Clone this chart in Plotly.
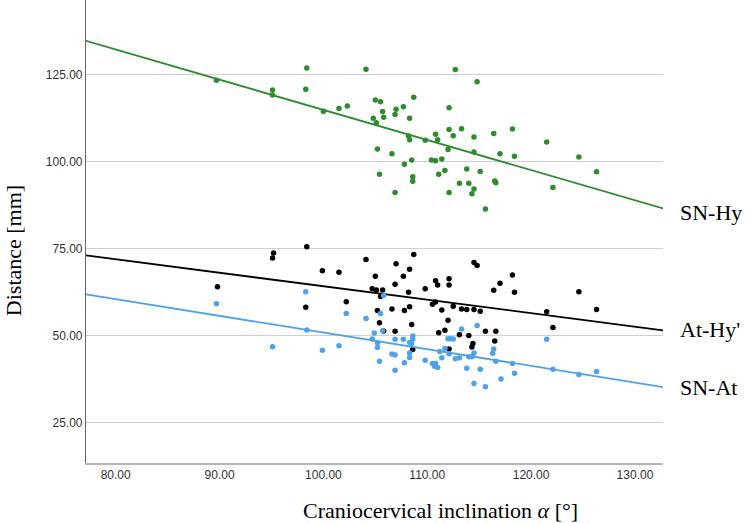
import plotly.graph_objects as go

# --- data ---
sn_hy_x = [89.7, 95.1, 95.1, 98.4, 98.3, 100.0, 101.5, 102.3, 104.1, 105.0, 105.5, 104.8, 105.1, 105.7, 105.8,
           105.2, 105.4, 106.6, 106.9, 106.9, 107.0, 107.7, 108.7, 108.3, 108.2, 108.3, 107.8, 108.5, 108.6, 108.6,
           109.8, 110.8, 111.0, 110.4, 110.8, 111.4, 111.1, 111.7, 112.1, 112.0, 112.1, 112.1, 112.5, 112.7, 113.3,
           113.1, 113.8, 114.0, 114.3, 114.5, 114.5, 114.5, 114.8, 115.1, 115.6, 116.4, 116.5, 116.6, 117.0, 118.2,
           118.4, 121.5, 122.1, 124.6, 126.3]
sn_hy_y = [123.3, 120.5, 119.1, 126.8, 120.7, 114.4, 115.2, 115.9, 126.5, 117.6, 117.1, 112.4, 111.1, 114.3, 112.7,
           103.6, 96.3, 102.2, 91.1, 113.5, 115.0, 115.7, 118.4, 112.4, 107.3, 106.2, 99.2, 100.4, 95.6, 94.3,
           106.1, 107.8, 106.2, 100.4, 100.2, 100.7, 96.3, 97.4, 91.1, 103.4, 109.2, 115.4, 107.4, 126.4, 109.4,
           93.7, 97.8, 93.7, 90.7, 92.1, 107.0, 102.7, 122.9, 97.1, 86.3, 108.0, 94.4, 93.9, 102.2, 109.3,
           101.5, 105.6, 92.5, 101.3, 97.0]

at_hy_x = [89.8, 95.2, 95.1, 98.4, 98.3, 99.9, 101.5, 102.2, 104.1, 105.0, 104.7, 105.1, 105.5, 105.7, 105.2,
           105.4, 105.8, 106.6, 107.0, 106.9, 106.9, 107.7, 108.3, 108.7, 108.2, 108.3, 107.8, 108.5, 108.6, 109.8,
           110.8, 111.0, 110.5, 110.8, 111.4, 111.1, 111.7, 112.0, 112.1, 112.1, 112.1, 112.5, 113.1, 113.3, 113.8,
           114.0, 114.3, 114.4, 114.5, 114.5, 114.8, 115.1, 115.6, 116.4, 116.6, 116.5, 117.0, 118.2, 118.4, 121.5,
           122.1, 124.6, 126.3]
at_hy_y = [64.0, 73.7, 72.3, 75.5, 58.1, 68.6, 68.2, 59.7, 71.8, 67.0, 63.4, 63.1, 61.2, 63.1, 57.2,
           53.7, 51.3, 57.6, 70.6, 64.7, 51.2, 67.0, 69.0, 73.3, 62.4, 58.3, 57.2, 53.2, 46.0, 63.4,
           65.7, 64.5, 59.0, 59.6, 57.3, 50.8, 51.5, 54.4, 66.3, 64.5, 46.1, 58.4, 50.2, 57.6, 57.5,
           50.0, 46.7, 47.7, 57.5, 71.0, 70.1, 57.0, 51.2, 63.0, 51.2, 48.4, 65.0, 67.4, 62.4, 56.8,
           52.3, 62.6, 57.5]

sn_at_x = [89.7, 95.1, 98.3, 98.4, 99.9, 101.5, 102.2, 104.1, 104.9, 104.7, 105.2, 105.2, 105.4, 105.5, 105.8,
           105.7, 106.6, 106.9, 106.9, 106.9, 107.7, 107.8, 108.3, 108.6, 108.6, 108.5, 108.3, 108.3, 109.8, 110.5,
           110.7, 110.8, 111.0, 111.2, 111.4, 111.7, 112.0, 112.2, 112.5, 112.1, 112.7, 113.1, 113.3, 113.8, 114.0,
           114.3, 114.5, 114.5, 114.8, 115.1, 115.6, 116.4, 116.3, 116.6, 117.1, 118.2, 118.4, 121.5, 122.1, 124.6,
           126.3]
sn_at_y = [59.1, 46.8, 62.6, 51.6, 45.8, 47.1, 56.3, 54.9, 50.7, 49.0, 47.9, 46.6, 42.6, 56.3, 61.5,
           51.4, 44.7, 44.4, 40.0, 48.9, 48.9, 42.2, 48.0, 49.9, 48.9, 47.7, 45.0, 43.7, 42.9, 42.0,
           41.2, 42.0, 40.8, 45.4, 43.6, 46.3, 49.1, 49.1, 49.0, 44.8, 43.3, 43.6, 51.9, 40.6, 43.9,
           43.9, 36.2, 45.0, 52.9, 40.3, 35.3, 46.1, 44.9, 42.6, 37.5, 42.0, 39.2, 48.9, 40.3, 38.8,
           39.7]

# fitted regression lines (values at the ends of the x range)
fit_x = [77.14, 132.7]
sn_hy_fit = [134.6, 86.5]
at_hy_fit = [73.0, 51.5]
sn_at_fit = [61.8, 35.2]

x_ticks = [80, 90, 100, 110, 120, 130]
y_ticks = [25, 50, 75, 100, 125]

GREEN = "#2e8b2e"
BLACK = "#000000"
BLUE = "#4fa2ea"

fig = go.Figure()
for xs, ys, fy, col in [(sn_hy_x, sn_hy_y, sn_hy_fit, GREEN),
                        (at_hy_x, at_hy_y, at_hy_fit, BLACK),
                        (sn_at_x, sn_at_y, sn_at_fit, BLUE)]:
    fig.add_trace(go.Scatter(x=xs, y=ys, mode="markers",
                             marker=dict(color=col, size=5.5, line=dict(width=0)),
                             showlegend=False, hoverinfo="skip"))
    fig.add_trace(go.Scatter(x=fit_x, y=fy, mode="lines",
                             line=dict(color=col, width=1.8),
                             showlegend=False, hoverinfo="skip"))

labels = [("SN-Hy", sn_hy_fit[-1], -4), ("At-Hy'", at_hy_fit[-1], 1), ("SN-At", sn_at_fit[-1], 0)]
for txt, yv, ys in labels:
    fig.add_annotation(x=1.026, xref="paper", y=yv, yref="y", text=txt, showarrow=False,
                       xanchor="left", yanchor="middle", yshift=ys,
                       font=dict(family="Liberation Serif", size=22, color="#000"))

# axis titles (placed as in the reference)
fig.add_annotation(x=0.0, xref="paper", xshift=-73, y=0.4575, yref="paper", text="Distance [mm]",
                   showarrow=False, textangle=-90, xanchor="center", yanchor="middle",
                   font=dict(family="Liberation Serif", size=22, color="#000"))
fig.add_annotation(x=0.615, xref="paper", y=0.0, yref="paper", yshift=-47,
                   text="Craniocervical inclination <i>α</i> [°]",
                   showarrow=False, xanchor="center", yanchor="middle",
                   font=dict(family="Liberation Serif", size=22, color="#000"))

fig.update_layout(
    width=750, height=523,
    margin=dict(l=86, r=87, t=0, b=60),
    paper_bgcolor="white", plot_bgcolor="white",
    xaxis=dict(range=[fit_x[0], fit_x[1]], tickvals=x_ticks,
               ticktext=[f"{v:.2f}" for v in x_ticks],
               showgrid=False, zeroline=False, showline=True, linecolor="#b5b5b5", linewidth=1.5,
               ticks="", tickfont=dict(family="Liberation Sans", size=12, color="#333")),
    yaxis=dict(range=[13.4, 146.35], tickvals=y_ticks,
               ticktext=[f"{v:.2f}" for v in y_ticks],
               showgrid=True, gridcolor="#cfcfcf", gridwidth=1, zeroline=False,
               showline=True, linecolor="#666", linewidth=1.2,
               ticks="", tickfont=dict(family="Liberation Sans", size=12, color="#333")),
)
fig.write_html("out.html")
